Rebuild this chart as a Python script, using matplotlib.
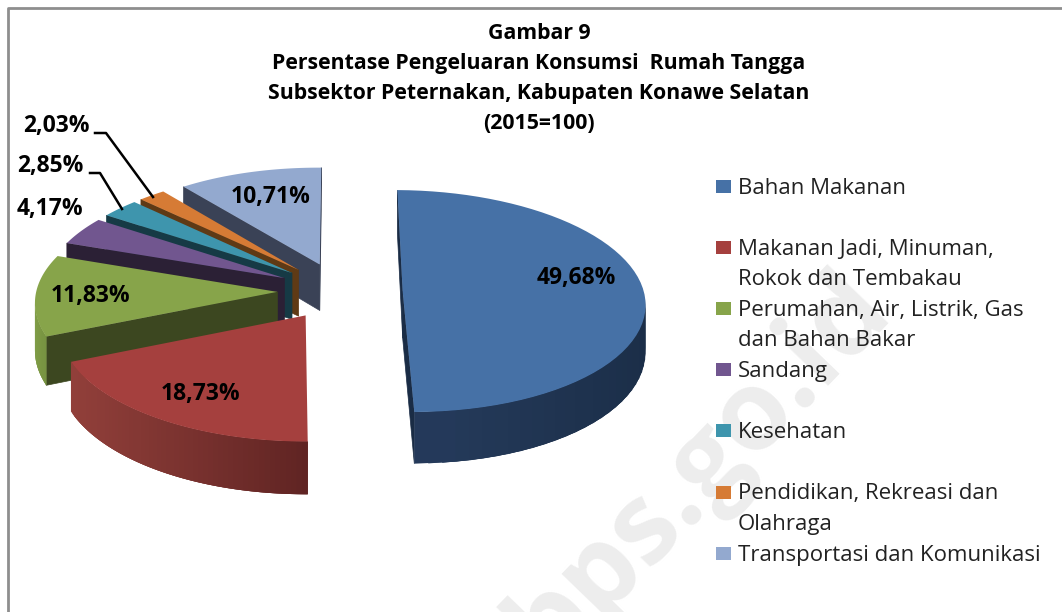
import matplotlib
matplotlib.use("Agg")
import matplotlib.pyplot as plt
import numpy as np
from matplotlib.patches import Polygon, Rectangle

# data
categories = ["Bahan Makanan",
              "Makanan Jadi, Minuman,\nRokok dan Tembakau",
              "Perumahan, Air, Listrik, Gas\ndan Bahan Bakar",
              "Sandang",
              "Kesehatan",
              "Pendidikan, Rekreasi dan\nOlahraga",
              "Transportasi dan Komunikasi"]
values = [49.68, 18.73, 11.83, 4.17, 2.85, 2.03, 10.71]
value_labels = ["49,68%", "18,73%", "11,83%", "4,17%", "2,85%", "2,03%", "10,71%"]
title_lines = ["Gambar 9",
               "Persentase Pengeluaran Konsumsi  Rumah Tangga",
               "Subsektor Peternakan, Kabupaten Konawe Selatan",
               "(2015=100)"]

# styles
top_colors = ["#4671a6", "#a5403e", "#87a44a", "#71568f", "#3e95ad", "#d67b35", "#93a9cf"]
face_colors = ["#1a2c45", "#3f2220", "#3c4720", "#2b2035", "#163a45", "#5f3a15", "#3a4256"]
wall_left = ["#253b5c", "#913f3a", "#7f9c45", "#4a3860", "#25606f", "#8a5020", "#5f6e88"]
wall_right = ["#1b2e48", "#5e2322", "#6d873c", "#4a3860", "#25606f", "#8a5020", "#5f6e88"]
label_pos = [(576, 278), (201, 394), (90, 296), (50, 209), (50, 166), (56, 126), (271, 197)]

# projection of the tilted pie, fitted on the picture
VX, CX, RX = 306, 34, 241
K, HT, HB, CY = 0.09, 1223, 1270, 291
EXPLODE = 0.26
START = np.radians(0.7)


def project(x, y, h):
    s = 1 / (1 + K * y)
    return VX + (CX + RX * x) * s, CY - HT + h * s


fig = plt.figure(figsize=(10.62, 6.12), dpi=100)
ax = fig.add_axes([0, 0, 1, 1])
ax.set_xlim(0, 1062)
ax.set_ylim(612, 0)
ax.axis("off")

# watermark
ax.text(700, 468, "bps.go.id", fontsize=80, fontweight="bold", family="Open Sans", color="#ededed",
        rotation=46, rotation_mode="anchor", ha="center", va="center", zorder=0, clip_on=True)

# frame
ax.plot([8, 8, 1062], [612, 8, 8], color="#8e8e8e", lw=2, zorder=1)

fractions = np.array(values) / sum(values)
edges = np.concatenate([[0], np.cumsum(fractions)]) * 2 * np.pi + START

# back slices first, blue one last
for i in [6, 5, 4, 3, 2, 1, 0]:
    mid = (edges[i] + edges[i + 1]) / 2
    ox, oy = EXPLODE * np.sin(mid), EXPLODE * np.cos(mid)
    t = np.linspace(edges[i], edges[i + 1], 60)
    ox_arc, oy_arc = ox + np.sin(t), oy + np.cos(t)

    topx, topy = project(ox_arc, oy_arc, HT)
    botx, boty = project(ox_arc, oy_arc, HB)
    apx, apy = project(ox, oy, HT)
    abx, aby = project(ox, oy, HB)

    # radial cut faces
    if topx[0] < apx:
        ax.add_patch(Polygon([(apx, apy), (topx[0], topy[0]), (botx[0], boty[0]), (abx, aby)],
                             fc=face_colors[i], ec=face_colors[i], lw=0.5, zorder=2))
    if topx[-1] > apx:
        ax.add_patch(Polygon([(apx, apy), (topx[-1], topy[-1]), (botx[-1], boty[-1]), (abx, aby)],
                             fc=face_colors[i], ec=face_colors[i], lw=0.5, zorder=2))

    # outer wall, only the part turned to the viewer, quads overlap so no seams show
    c0 = np.array(matplotlib.colors.to_rgb(wall_left[i]))
    c1 = np.array(matplotlib.colors.to_rgb(wall_right[i]))
    xmin, xmax = botx.min(), botx.max()
    for j in range(len(t) - 1):
        if topx[j + 1] < topx[j]:
            k = max(j - 2, 0)
            f = (topx[j] - xmin) / max(xmax - xmin, 1)
            col = c0 + (c1 - c0) * f
            ax.add_patch(Polygon([(topx[k], topy[k]), (topx[j + 1], topy[j + 1]),
                                  (botx[j + 1], boty[j + 1]), (botx[k], boty[k])],
                                 fc=col, ec="none", zorder=2))

    # top
    ax.add_patch(Polygon(np.vstack([[apx, apy], np.column_stack([topx, topy])]),
                         fc=top_colors[i], ec="none", zorder=2))

# value labels
for lab, (x, y) in zip(value_labels, label_pos):
    ax.text(x, y, lab, fontsize=16.5, fontweight="bold", family="Open Sans", color="black",
            ha="center", va="center", zorder=4)

# leader lines
ax.plot([95, 106, 153], [133, 133, 197], color="black", lw=1.8, zorder=3)
ax.plot([90, 100, 122], [173, 173, 209], color="black", lw=1.8, zorder=3)

# title
for n, line in enumerate(title_lines):
    ax.text(539, 33.5 + 30 * n, line, fontsize=15.3, fontweight="bold", family="Open Sans",
            color="black", ha="center", va="center", zorder=4)

# legend
for i, cat in enumerate(categories):
    y = 186 + 61.2 * i
    ax.add_patch(Rectangle((716, y - 6.5), 15, 13, fc=top_colors[i], ec="none", zorder=4))
    for n, line in enumerate(cat.split("\n")):
        ax.text(738, y + 2 + 30.3 * n, line, fontsize=16, family="Open Sans", color="#222222",
                ha="left", va="center", zorder=4)

fig.savefig("out.png", dpi=100)
